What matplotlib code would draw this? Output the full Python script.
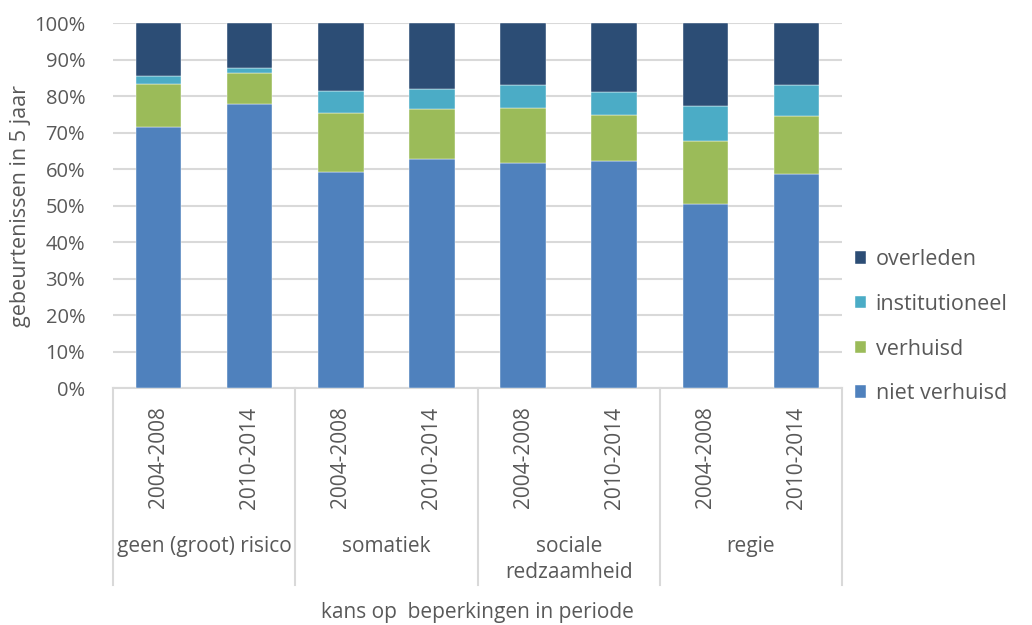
import numpy as np
import matplotlib.pyplot as plt
import matplotlib.transforms as mtransforms

plt.rcParams['font.family'] = ['Open Sans', 'DejaVu Sans']

periods = ["2004-2008", "2010-2014"] * 4
groups = ["geen (groot) risico", "somatiek", "sociale\nredzaamheid", "regie"]

# shares in %
niet_verhuisd = [71.5, 77.8, 59.2, 62.7, 61.6, 62.3, 50.4, 58.8]
verhuisd = [11.9, 8.5, 16.1, 13.7, 15.2, 12.6, 17.2, 15.8]
institutioneel = [2.1, 1.4, 6.0, 5.6, 6.3, 6.1, 9.8, 8.5]
overleden = [14.5, 12.3, 18.7, 18.0, 16.9, 19.0, 22.6, 16.9]

series = [
    ("niet verhuisd", niet_verhuisd, "#4F81BD"),
    ("verhuisd", verhuisd, "#9BBB59"),
    ("institutioneel", institutioneel, "#4BACC6"),
    ("overleden", overleden, "#2C4D75"),
]

text_color = "#595959"
grid_color = "#D9D9D9"
fs = 15

fig = plt.figure(figsize=(10.32, 6.25), dpi=100)
ax = fig.add_axes([0.1095, 0.379, 0.7065, 0.584])

xpos = np.arange(len(periods))
bottom = np.zeros(len(periods))
handles = []
for name, vals, color in series:
    vals = np.array(vals) / 100
    bars = ax.bar(xpos, vals, width=0.5, bottom=bottom, color=color,
                  edgecolor="white", linewidth=0.3, label=name, zorder=3)
    handles.append(bars)
    bottom += vals

ax.set_xlim(-0.5, len(periods) - 0.5)
ax.set_ylim(0, 1)
ax.set_yticks(np.arange(0, 1.01, 0.1))
ax.set_yticklabels([f"{int(round(v * 100))}%" for v in np.arange(0, 1.01, 0.1)],
                   fontsize=14.5, color=text_color)
ax.tick_params(axis="y", length=0, pad=20)
ax.tick_params(axis="x", length=0, labelbottom=False)
ax.grid(axis="y", color=grid_color, linewidth=1.5, zorder=0)
for s in ["top", "right", "left"]:
    ax.spines[s].set_visible(False)
ax.spines["bottom"].set_color(grid_color)
ax.spines["bottom"].set_linewidth(1.5)

ax.set_ylabel("gebeurtenissen in 5 jaar", fontsize=15.5, color=text_color, labelpad=2)

trans = mtransforms.blended_transform_factory(ax.transData, ax.transAxes)

# period labels
for x, p in zip(xpos, periods):
    ax.text(x, -0.19, p, rotation=90, ha="center", va="center",
            fontsize=fs, color=text_color, transform=trans)

# group labels and separators
for g, name in enumerate(groups):
    ax.text(2 * g + 0.5, -0.405, name, ha="center", va="top", fontsize=fs,
            color=text_color, transform=trans, linespacing=1.3)
for xb in np.arange(-0.5, len(periods), 2):
    ax.plot([xb, xb], [0, -0.54], color=grid_color, linewidth=1.5,
            transform=trans, clip_on=False)

ax.text(0.5, -0.614, "kans op  beperkingen in periode", ha="center", va="center",
        fontsize=fs, color=text_color, transform=ax.transAxes)

leg = fig.legend(handles[::-1], [s[0] for s in series][::-1],
                 loc="center left", bbox_to_anchor=(0.81, 0.4772),
                 frameon=False, fontsize=15.5, labelcolor=text_color,
                 handlelength=0.5, handleheight=0.5, handletextpad=0.45,
                 labelspacing=1.1)

fig.savefig("out.png", dpi=100)
